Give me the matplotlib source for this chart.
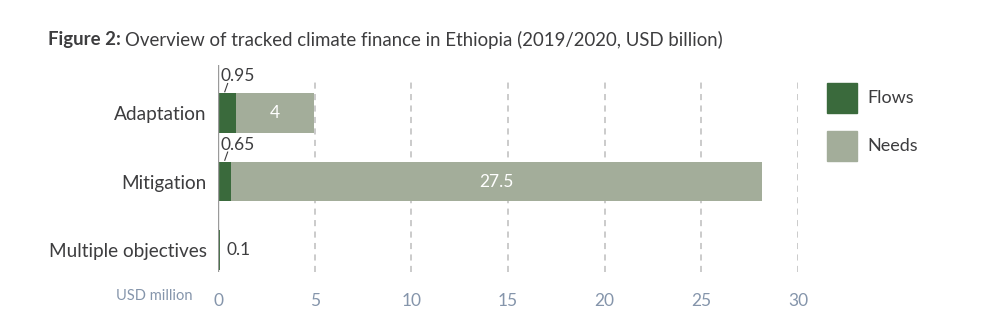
import matplotlib.pyplot as plt
from matplotlib.patches import Rectangle

categories = ["Adaptation", "Mitigation", "Multiple objectives"]
flows = [0.95, 0.65, 0.1]
needs = [4, 27.5, 0]
flow_labels = ["0.95", "0.65", "0.1"]
need_labels = ["4", "27.5", ""]
xticks = [0, 5, 10, 15, 20, 25, 30]

FLOW_C = "#3a6a3c"
NEED_C = "#a3ad9a"
TEXT_C = "#3d3d3f"
TICK_C = "#8595ab"


def main():
    plt.rcParams["font.family"] = ["Lato", "DejaVu Sans"]
    fig = plt.figure(figsize=(9.81, 3.35), dpi=100)
    ax = fig.add_axes([218 / 981, 1 - 272 / 335, 580 / 981, 207 / 335])

    ys = list(range(len(categories)))
    h = 0.58
    ax.barh(ys, flows, height=h, color=FLOW_C, zorder=3)
    ax.barh(ys, needs, left=flows, height=h, color=NEED_C, zorder=3)

    ax.set_xlim(0, 30)
    ax.set_ylim(2.32, -0.7)

    # grid
    for x in xticks[1:]:
        ax.plot([x, x], [2.32, -0.48], color="#bdbdbd", lw=1.1,
                ls=(0, (4, 3.5)), zorder=1)
    ax.plot([0, 0], [2.32, -0.7], color="#9a9a9a", lw=1.0, zorder=4)

    for s in ax.spines.values():
        s.set_visible(False)
    ax.set_yticks(ys)
    ax.set_yticklabels(categories, fontsize=13.7, color=TEXT_C)
    ax.set_xticks(xticks)
    ax.set_xticklabels([str(x) for x in xticks], fontsize=12.5, color=TICK_C)
    ax.tick_params(length=0, axis="y", pad=8)
    ax.tick_params(length=0, axis="x", pad=15)

    # value labels
    for i in range(len(categories)):
        if need_labels[i]:
            ax.text(flows[i] + needs[i] / 2, ys[i], need_labels[i],
                    ha="center", va="center", color="white", fontsize=12.5,
                    zorder=5)
            ax.text(0.12, ys[i] - h / 2 - 0.25, flow_labels[i], ha="left",
                    va="center", color=TEXT_C, fontsize=12.5)
            ax.plot([0.5, 0.35], [ys[i] - h / 2 - 0.14, ys[i] - h / 2 - 0.02],
                    color=TEXT_C, lw=0.8)
        else:
            ax.text(flows[i] + 0.35, ys[i], flow_labels[i], ha="left",
                    va="center", color=TEXT_C, fontsize=12.5)

    fig.text(193 / 981, 1 - 296 / 335, "USD million", ha="right",
             va="center", fontsize=10.5, color=TICK_C)

    # title
    t1 = fig.text(48 / 981, 1 - 40 / 335, "Figure 2:", fontweight="bold",
                  fontsize=13.4, color=TEXT_C, va="center")
    fig.canvas.draw()
    bb = t1.get_window_extent()
    fig.text((bb.x1 + 4) / 981, 1 - 40 / 335,
             "Overview of tracked climate finance in Ethiopia "
             "(2019/2020, USD billion)",
             fontsize=13.4, color=TEXT_C, va="center")

    # legend
    for k, (lab, c) in enumerate([("Flows", FLOW_C), ("Needs", NEED_C)]):
        yc = 98 + k * 48
        fig.add_artist(Rectangle((827 / 981, 1 - (yc + 15) / 335),
                                 30 / 981, 30 / 335, color=c,
                                 transform=fig.transFigure))
        fig.text(867 / 981, 1 - yc / 335, lab, fontsize=13,
                 color=TEXT_C, va="center")

    fig.savefig("out.png", dpi=100)


if __name__ == "__main__":
    main()
